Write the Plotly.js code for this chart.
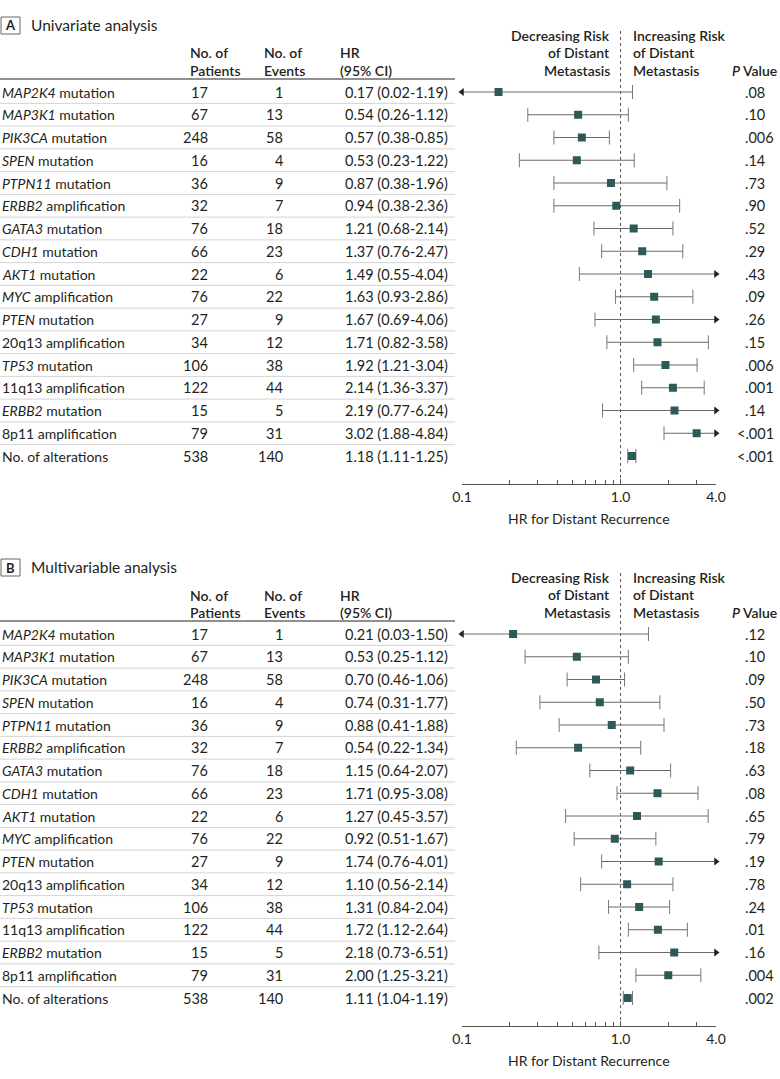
<!DOCTYPE html>
<html><head><meta charset="utf-8">
<script src="https://cdn.plot.ly/plotly-3.0.1.min.js"></script>
<style>html,body{margin:0;padding:0;background:#fff}#chart{width:780px;height:1079px}</style>
</head><body><div id="chart"></div>
<script>
// ---------------- data ----------------
const rowLabels = [
  '<i>MAP2K4</i> mutation', '<i>MAP3K1</i> mutation', '<i>PIK3CA</i> mutation', '<i>SPEN</i> mutation',
  '<i>PTPN11</i> mutation', '<i>ERBB2</i> amplification', '<i>GATA3</i> mutation', '<i>CDH1</i> mutation',
  '<i>AKT1</i> mutation', '<i>MYC</i> amplification', '<i>PTEN</i> mutation', '20q13 amplification',
  '<i>TP53</i> mutation', '11q13 amplification', '<i>ERBB2</i> mutation', '8p11 amplification',
  'No. of alterations'
];
const patients = [17, 67, 248, 16, 36, 32, 76, 66, 22, 76, 27, 34, 106, 122, 15, 79, 538];
const events   = [1, 13, 58, 4, 9, 7, 18, 23, 6, 22, 9, 12, 38, 44, 5, 31, 140];

const hrA = [0.17, 0.54, 0.57, 0.53, 0.87, 0.94, 1.21, 1.37, 1.49, 1.63, 1.67, 1.71, 1.92, 2.14, 2.19, 3.02, 1.18];
const loA = [0.02, 0.26, 0.38, 0.23, 0.38, 0.38, 0.68, 0.76, 0.55, 0.93, 0.69, 0.82, 1.21, 1.36, 0.77, 1.88, 1.11];
const hiA = [1.19, 1.12, 0.85, 1.22, 1.96, 2.36, 2.14, 2.47, 4.04, 2.86, 4.06, 3.58, 3.04, 3.37, 6.24, 4.84, 1.25];
const pA  = ['.08', '.10', '.006', '.14', '.73', '.90', '.52', '.29', '.43', '.09', '.26', '.15', '.006', '.001', '.14', '<.001', '<.001'];

const hrB = [0.21, 0.53, 0.70, 0.74, 0.88, 0.54, 1.15, 1.71, 1.27, 0.92, 1.74, 1.10, 1.31, 1.72, 2.18, 2.00, 1.11];
const loB = [0.03, 0.25, 0.46, 0.31, 0.41, 0.22, 0.64, 0.95, 0.45, 0.51, 0.76, 0.56, 0.84, 1.12, 0.73, 1.25, 1.04];
const hiB = [1.50, 1.12, 1.06, 1.77, 1.88, 1.34, 2.07, 3.08, 3.57, 1.67, 4.01, 2.14, 2.04, 2.64, 6.51, 3.21, 1.19];
const pB  = ['.12', '.10', '.09', '.50', '.73', '.18', '.63', '.08', '.65', '.79', '.19', '.78', '.24', '.01', '.16', '.004', '.002'];

const xTickVals = [0.1, 1, 4];
const xTickText = ['0.1', '1.0', '4.0'];
const xMinorVals = [0.2, 0.3, 0.4, 0.5, 0.6, 0.7, 0.8, 0.9, 2, 3];
const axisTitle = 'HR for Distant Recurrence';

// ---------------- layout helpers ----------------
const W = 780, H = 1079;
const FONT = 'Lato, "Open Sans", sans-serif';
const TXT = '#231f20';
const XMIN = 0.1, XMAX = 4;
const ROW0 = 92, ROWH = 22.75;
const px = v => v / W;
const py = v => 1 - v / H;

const panels = [
  {key: 'A', title: 'Univariate analysis', off: 0, hr: hrA, lo: loA, hi: hiA, p: pA, xa: 'x', ya: 'y', xn: 'xaxis', yn: 'yaxis'},
  {key: 'B', title: 'Multivariable analysis', off: 542, hr: hrB, lo: loB, hi: hiB, p: pB, xa: 'x2', ya: 'y2', xn: 'xaxis2', yn: 'yaxis2'}
];

const traces = [];
const annotations = [];
const shapes = [];
const layout = {
  width: W, height: H, margin: {l: 0, r: 0, t: 0, b: 0},
  paper_bgcolor: '#fff', plot_bgcolor: 'rgba(0,0,0,0)',
  showlegend: false, font: {family: FONT, color: TXT, size: 14}
};

function txt(x, y, text, anchor, opts = {}) {
  annotations.push(Object.assign({
    xref: 'paper', yref: 'paper', x: px(x), y: py(y), text: text,
    xanchor: anchor, yanchor: 'middle', showarrow: false,
    font: {family: FONT, size: 14, color: TXT}
  }, opts));
}

panels.forEach(P => {
  const o = P.off;
  const top = o + 29, bottom = o + 484;
  const yRange = [(bottom - (o + ROW0)) / ROWH, (top - (o + ROW0)) / ROWH];

  layout[P.yn] = {
    domain: [py(bottom), py(top)], range: yRange, anchor: P.xa,
    visible: false, showgrid: false, zeroline: false, fixedrange: true
  };
  layout[P.xn] = {
    domain: [px(462), px(716)], anchor: P.ya, type: 'log',
    range: [Math.log10(XMIN), Math.log10(XMAX)],
    tickmode: 'array', tickvals: xTickVals, ticktext: xTickText,
    ticks: 'inside', ticklen: 5, tickwidth: 1, tickcolor: '#555',
    minor: {tickmode: 'array', tickvals: xMinorVals, ticks: 'inside', ticklen: 4, tickwidth: 1, tickcolor: '#555', showgrid: false},
    showline: true, linecolor: '#555', linewidth: 1,
    showgrid: false, zeroline: false, automargin: false, fixedrange: true,
    tickfont: {family: FONT, size: 14, color: TXT}
  };

  // panel letter box and title
  shapes.push({type: 'rect', xref: 'paper', yref: 'paper', x0: px(1), x1: px(20), y0: py(o + 17), y1: py(o + 34),
               line: {color: '#666', width: 1}, fillcolor: '#fff'});
  txt(10.5, o + 25.5, '<b>' + P.key + '</b>', 'center', {font: {family: FONT, size: 13, color: TXT}});
  txt(29, o + 25, P.title, 'left', {font: {family: FONT, size: 15.5, color: TXT}});

  // column headers
  const hf = {family: FONT, size: 14, color: TXT, weight: 600};
  txt(188, o + 53, 'No. of', 'left', {font: hf});
  txt(188, o + 70, 'Patients', 'left', {font: hf});
  txt(262, o + 53, 'No. of', 'left', {font: hf});
  txt(262, o + 70, 'Events', 'left', {font: hf});
  txt(338, o + 53, 'HR', 'left', {font: hf});
  txt(338, o + 70, '(95% CI)', 'left', {font: hf});
  txt(612, o + 35, 'Decreasing Risk', 'right', {font: hf});
  txt(612, o + 52, 'of Distant', 'right', {font: hf});
  txt(612, o + 70, 'Metastasis', 'right', {font: hf});
  txt(631, o + 35, 'Increasing Risk', 'left', {font: hf});
  txt(631, o + 52, 'of Distant', 'left', {font: hf});
  txt(631, o + 70, 'Metastasis', 'left', {font: hf});
  txt(730, o + 70, '<i>P</i> Value', 'left', {font: hf});

  // header rule
  shapes.push({type: 'line', xref: 'paper', yref: 'paper', x0: 0, x1: px(455), y0: py(o + 79), y1: py(o + 79),
               line: {color: '#222', width: 1.2}});

  // row separators
  for (let i = 0; i < rowLabels.length - 1; i++) {
    shapes.push({type: 'line', xref: 'paper', yref: P.ya, x0: 0, x1: px(455), y0: i + 0.5, y1: i + 0.5,
                 line: {color: '#d4d4d4', width: 1}, layer: 'below'});
  }

  // table text
  const tf = {family: FONT, size: 14, color: TXT};
  const nf = {family: FONT, size: 14.5, color: TXT};
  rowLabels.forEach((lab, i) => {
    const base = {xref: 'paper', yref: P.ya, y: i, yanchor: 'middle', showarrow: false, font: nf};
    annotations.push(Object.assign({}, base, {x: 0, xanchor: 'left', text: lab, font: tf}));
    annotations.push(Object.assign({}, base, {x: px(210), xanchor: 'right', text: String(patients[i])}));
    annotations.push(Object.assign({}, base, {x: px(285), xanchor: 'right', text: String(events[i])}));
    annotations.push(Object.assign({}, base, {x: px(343), xanchor: 'left',
      text: P.hr[i].toFixed(2) + ' (' + P.lo[i].toFixed(2) + '-' + P.hi[i].toFixed(2) + ')'}));
    const pv = P.p[i];
    annotations.push(Object.assign({}, base, {x: px(pv.startsWith('<') ? 735 : 743), xanchor: 'left', text: pv.replace('<', '&lt;')}));
  });

  // reference line at HR = 1
  shapes.push({type: 'line', xref: P.xa, yref: P.ya + ' domain', x0: 1, x1: 1, y0: 0, y1: 1,
               line: {color: '#555', width: 1, dash: 'dot'}, layer: 'below'});

  // axis title
  annotations.push({xref: P.xa + ' domain', yref: 'paper', x: 0.5, y: py(o + 518), xanchor: 'center', yanchor: 'middle',
                    text: axisTitle, showarrow: false, font: {family: FONT, size: 14, color: TXT}});

  // forest marks
  const lx = [], ly = [], capX = [], capY = [], lArrX = [], lArrY = [], rArrX = [], rArrY = [];
  P.hr.forEach((h, i) => {
    const a = Math.max(P.lo[i], XMIN), b = Math.min(P.hi[i], XMAX);
    lx.push(a, b, null); ly.push(i, i, null);
    if (P.lo[i] >= XMIN) { capX.push(P.lo[i]); capY.push(i); } else { lArrX.push(XMIN); lArrY.push(i); }
    if (P.hi[i] <= XMAX) { capX.push(P.hi[i]); capY.push(i); } else { rArrX.push(XMAX); rArrY.push(i); }
  });
  traces.push({type: 'scatter', mode: 'lines', x: lx, y: ly, xaxis: P.xa, yaxis: P.ya,
               line: {color: '#6a6a6a', width: 1}, hoverinfo: 'skip', cliponaxis: false});
  traces.push({type: 'scatter', mode: 'markers', x: capX, y: capY, xaxis: P.xa, yaxis: P.ya,
               marker: {symbol: 'line-ns', size: 10, line: {color: '#777', width: 1}}, hoverinfo: 'skip', cliponaxis: false});
  traces.push({type: 'scatter', mode: 'markers', x: lArrX, y: lArrY, xaxis: P.xa, yaxis: P.ya,
               marker: {symbol: 'triangle-left', size: 7, color: '#222'}, hoverinfo: 'skip', cliponaxis: false});
  traces.push({type: 'scatter', mode: 'markers', x: rArrX, y: rArrY, xaxis: P.xa, yaxis: P.ya,
               marker: {symbol: 'triangle-right', size: 7, color: '#222'}, hoverinfo: 'skip', cliponaxis: false});
  traces.push({type: 'scatter', mode: 'markers', x: P.hr, y: P.hr.map((_, i) => i), xaxis: P.xa, yaxis: P.ya,
               marker: {symbol: 'square', size: 8, color: '#2d5957'}, hoverinfo: 'skip', cliponaxis: false});
});

layout.annotations = annotations;
layout.shapes = shapes;

Plotly.newPlot('chart', traces, layout, {displayModeBar: false, staticPlot: true});
</script>
</body></html>
